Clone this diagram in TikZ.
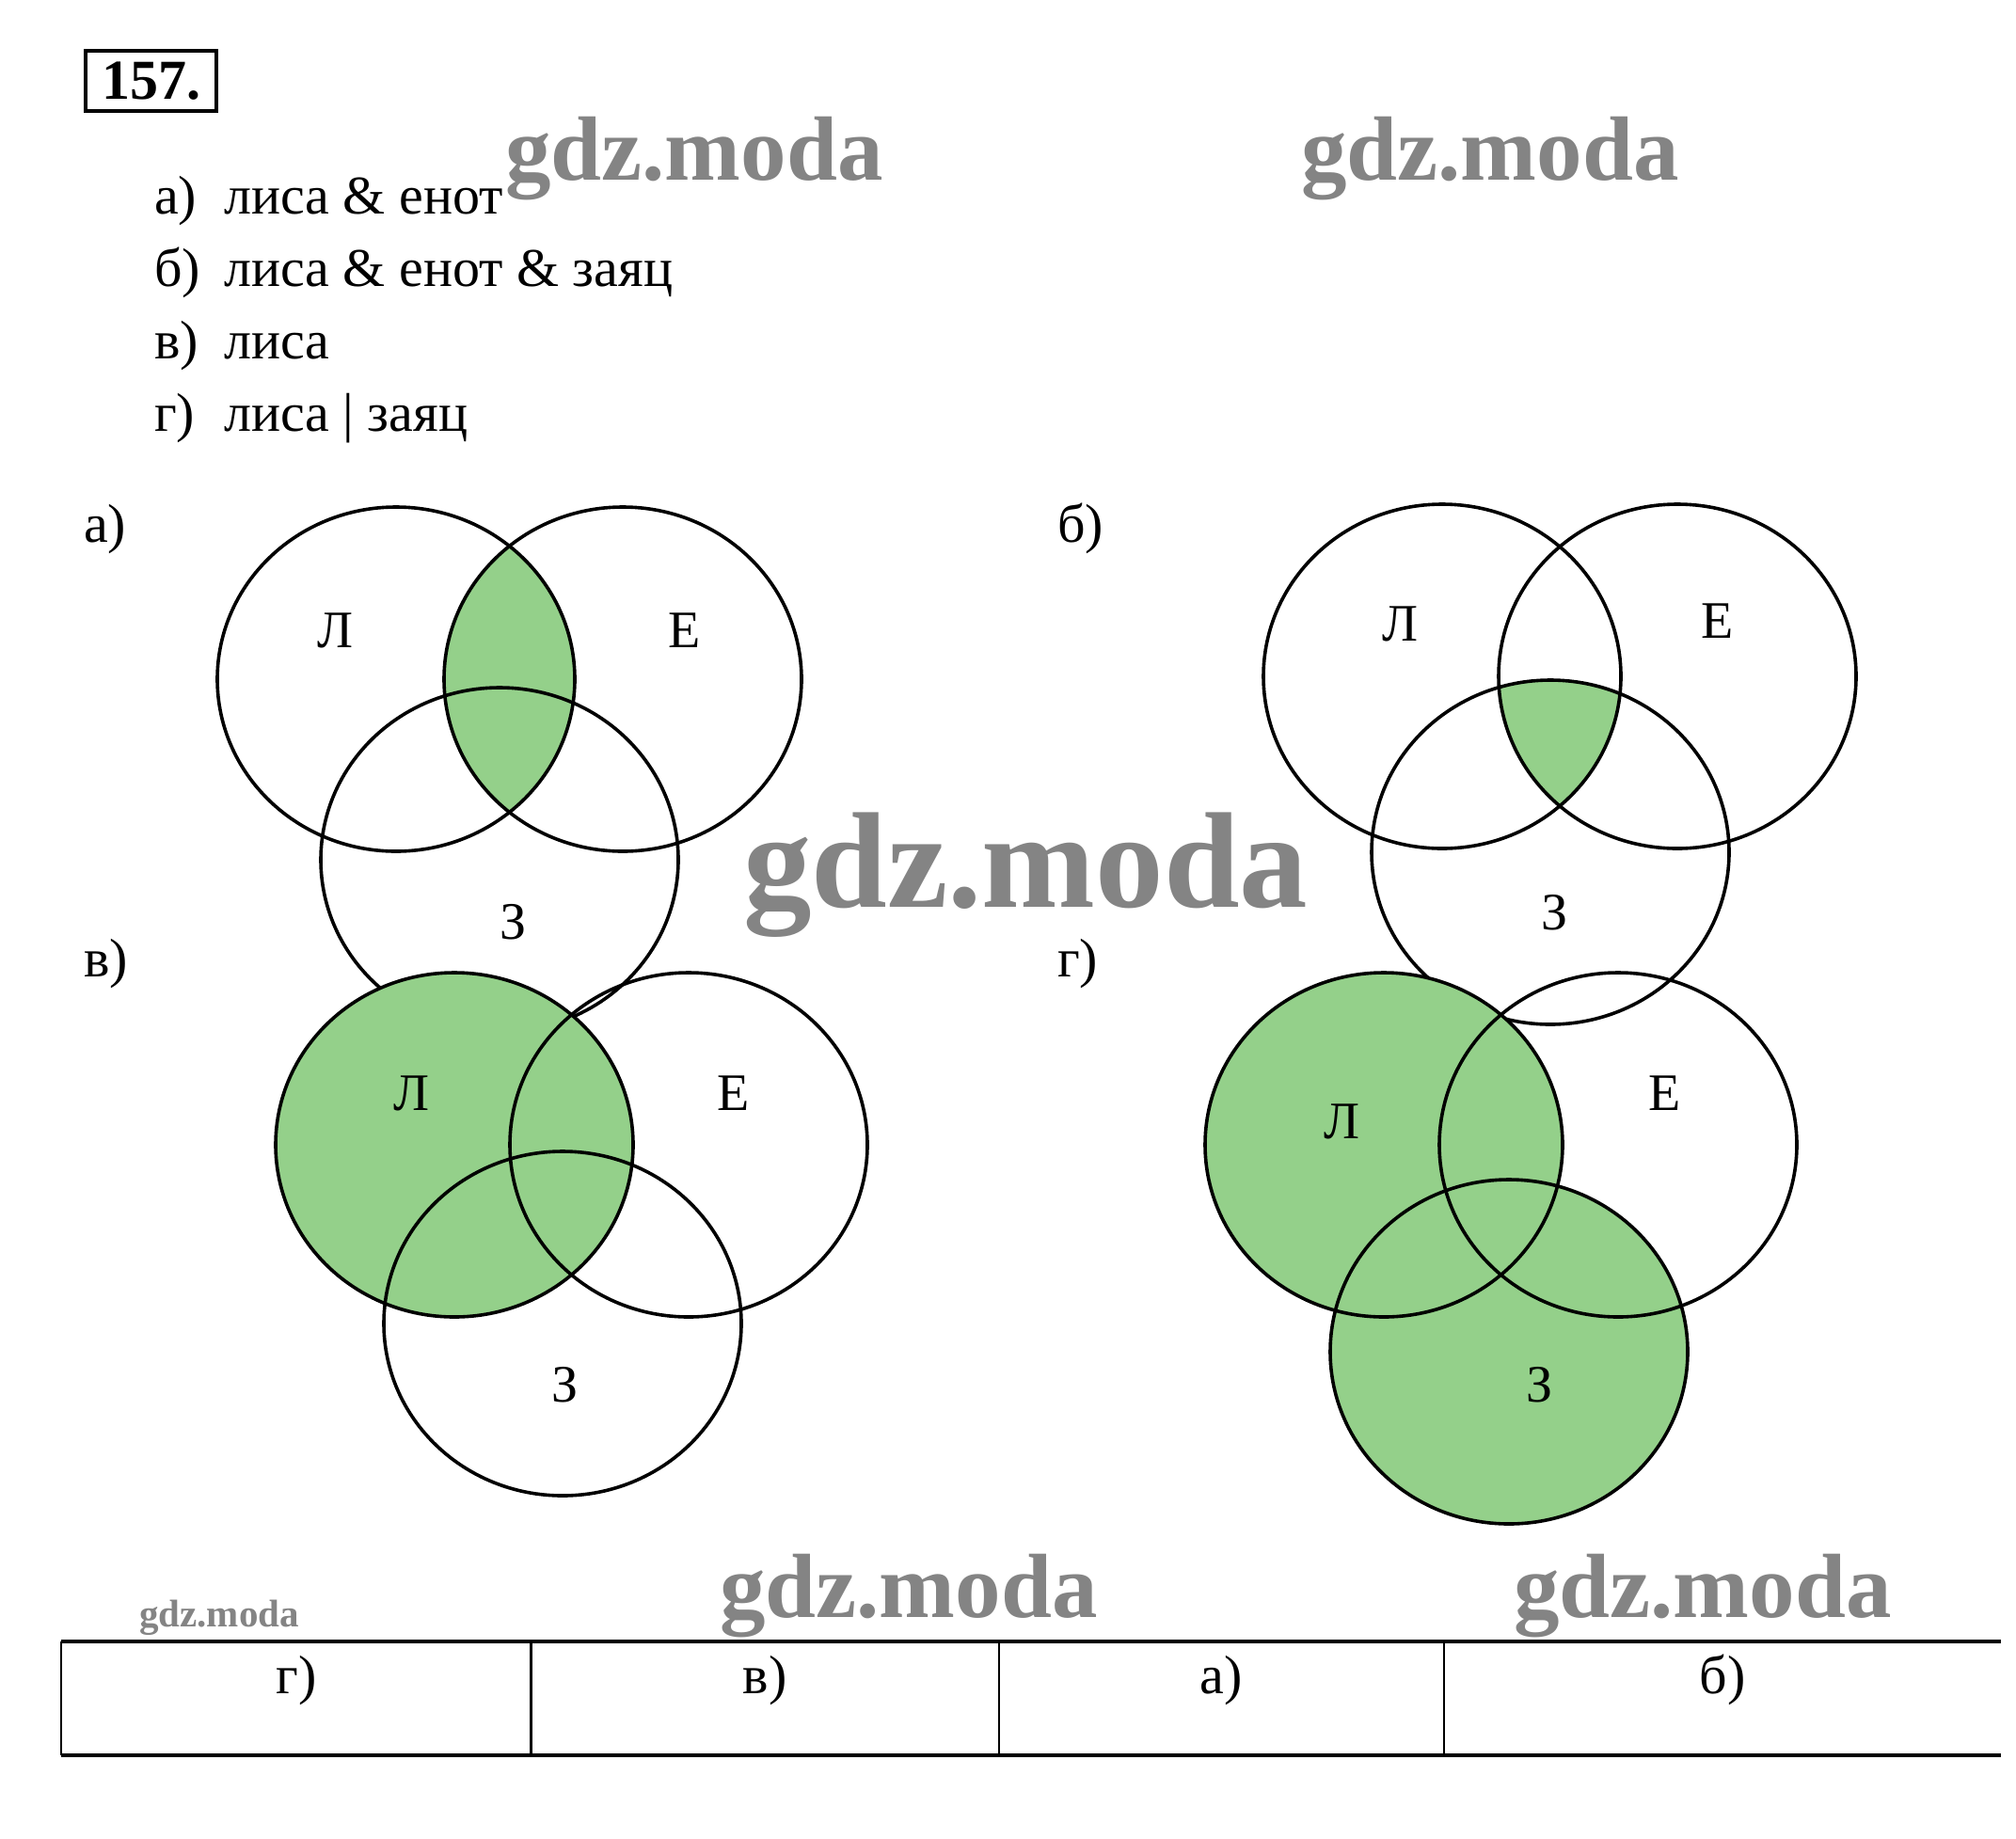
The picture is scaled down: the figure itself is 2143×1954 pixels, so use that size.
\documentclass[tikz,border=0pt]{standalone}
\usepackage{fontspec}
\setmainfont{Liberation Serif}
\definecolor{vgreen}{RGB}{148,208,138}
\definecolor{wmgray}{RGB}{132,132,132}
\begin{document}
\begin{tikzpicture}[x=1pt,y=-1pt,
  txt/.style={inner sep=0pt, font=\fontsize{58}{70}\selectfont},
  vlab/.style={inner sep=0pt, font=\fontsize{56}{66}\selectfont},
  setline/.style={line width=3.6pt},
  vr/.style={x radius=190pt, y radius=183pt},
  wm/.style={inner sep=0pt, anchor=base west, text=wmgray},
  tline/.style={line width=4pt},
  tsep/.style={line width=2.5pt}]
\useasboundingbox[fill=white] (0,0) rectangle (2143,1954);

% number box
\node[draw, line width=4pt, inner sep=0pt, minimum width=139pt, minimum height=64pt,
      font=\bfseries\fontsize{60}{60}\selectfont] (num) at (160.5,86) {157.};

% list
\node[txt, anchor=base west] (la) at (164,227) {а)};
\node[txt, anchor=base west] (ta) at (238,227) {лиса \& енот};
\node[txt, anchor=base west] (lb) at (164,304) {б)};
\node[txt, anchor=base west] (tb) at (238,304) {лиса \& енот \& заяц};
\node[txt, anchor=base west] (lv) at (164,381) {в)};
\node[txt, anchor=base west] (tv) at (238,381) {лиса};
\node[txt, anchor=base west] (lg) at (164,458) {г)};
\node[txt, anchor=base west] (tg) at (238,458) {лиса | заяц};

% diagram labels
\node[txt, anchor=base west] (pa) at (89,576) {а)};
\node[txt, anchor=base west] (pb) at (1124,576) {б)};
\node[txt, anchor=base west] (pv) at (89,1038) {в)};
\node[txt, anchor=base west] (pg) at (1124,1038) {г)};

% ---------- а) ----------
\coordinate (aL) at (421,722);
\coordinate (aE) at (662,722);
\coordinate (aZ) at (531,914);
\begin{scope}
  \clip (aL) ellipse [vr];
  \fill[vgreen] (aE) ellipse [vr];
\end{scope}
\draw[setline] (aL) ellipse [vr];
\draw[setline] (aE) ellipse [vr];
\draw[setline] (aZ) ellipse [vr];
\node[vlab] (aLt) at (356,670) {Л};
\node[vlab] (aEt) at (728,670) {Е};
\node[vlab] (aZt) at (546,980) {З};

% ---------- б) ----------
\coordinate (bL) at (1533,719);
\coordinate (bE) at (1783,719);
\coordinate (bZ) at (1648,906);
\begin{scope}
  \clip (bL) ellipse [vr];
  \clip (bE) ellipse [vr];
  \fill[vgreen] (bZ) ellipse [vr];
\end{scope}
\draw[setline] (bL) ellipse [vr];
\draw[setline] (bE) ellipse [vr];
\draw[setline] (bZ) ellipse [vr];
\node[vlab] (bLt) at (1488,663) {Л};
\node[vlab] (bEt) at (1826,660) {Е};
\node[vlab] (bZt) at (1653,970) {З};

% ---------- в) ----------
\coordinate (vL) at (483,1217);
\coordinate (vE) at (732,1217);
\coordinate (vZ) at (598,1407);
\fill[vgreen] (vL) ellipse [vr];
\draw[setline] (vL) ellipse [vr];
\draw[setline] (vE) ellipse [vr];
\draw[setline] (vZ) ellipse [vr];
\node[vlab] (vLt) at (437,1162) {Л};
\node[vlab] (vEt) at (780,1162) {Е};
\node[vlab] (vZt) at (601,1472) {З};

% ---------- г) ----------
\coordinate (gL) at (1471,1217);
\coordinate (gE) at (1720,1217);
\coordinate (gZ) at (1604,1437);
\fill[vgreen] (gL) ellipse [vr];
\fill[vgreen] (gZ) ellipse [vr];
\draw[setline] (gL) ellipse [vr];
\draw[setline] (gE) ellipse [vr];
\draw[setline] (gZ) ellipse [vr];
\node[vlab] (gLt) at (1426,1192) {Л};
\node[vlab] (gEt) at (1770,1162) {Е};
\node[vlab] (gZt) at (1637,1472) {З};

% ---------- table ----------
\coordinate (tTL) at (65,1745);
\coordinate (tTR) at (2127,1745);
\coordinate (tBL) at (65,1866);
\coordinate (tBR) at (2127,1866);
\draw[tline] (tTL) -- (tTR);
\draw[tline] (tBL) -- (tBR);
\draw[tsep] (65,1745) -- (65,1866);
\draw[tsep] (564.5,1745) -- (564.5,1866);
\draw[tsep] (1062,1745) -- (1062,1866);
\draw[tsep] (1535,1745) -- (1535,1866);
\node[txt, anchor=base] (c1) at (315,1800) {г)};
\node[txt, anchor=base] (c2) at (813,1800) {в)};
\node[txt, anchor=base] (c3) at (1298,1800) {а)};
\node[txt, anchor=base] (c4) at (1831,1800) {б)};

% ---------- watermarks ----------
\node[wm, font=\bfseries\fontsize{97}{97}\selectfont] (w1) at (537,191) {gdz.moda};
\node[wm, font=\bfseries\fontsize{97}{97}\selectfont] (w2) at (1383,191) {gdz.moda};
\node[wm, font=\bfseries\fontsize{145}{145}\selectfont] (w3) at (790,964) {gdz.moda};
\node[wm, font=\bfseries\fontsize{97}{97}\selectfont] (w4) at (765,1719) {gdz.moda};
\node[wm, font=\bfseries\fontsize{97}{97}\selectfont] (w5) at (1609,1719) {gdz.moda};
\node[wm, font=\bfseries\fontsize{41}{41}\selectfont] (w6) at (148,1729) {gdz.moda};
\end{tikzpicture}
\end{document}
